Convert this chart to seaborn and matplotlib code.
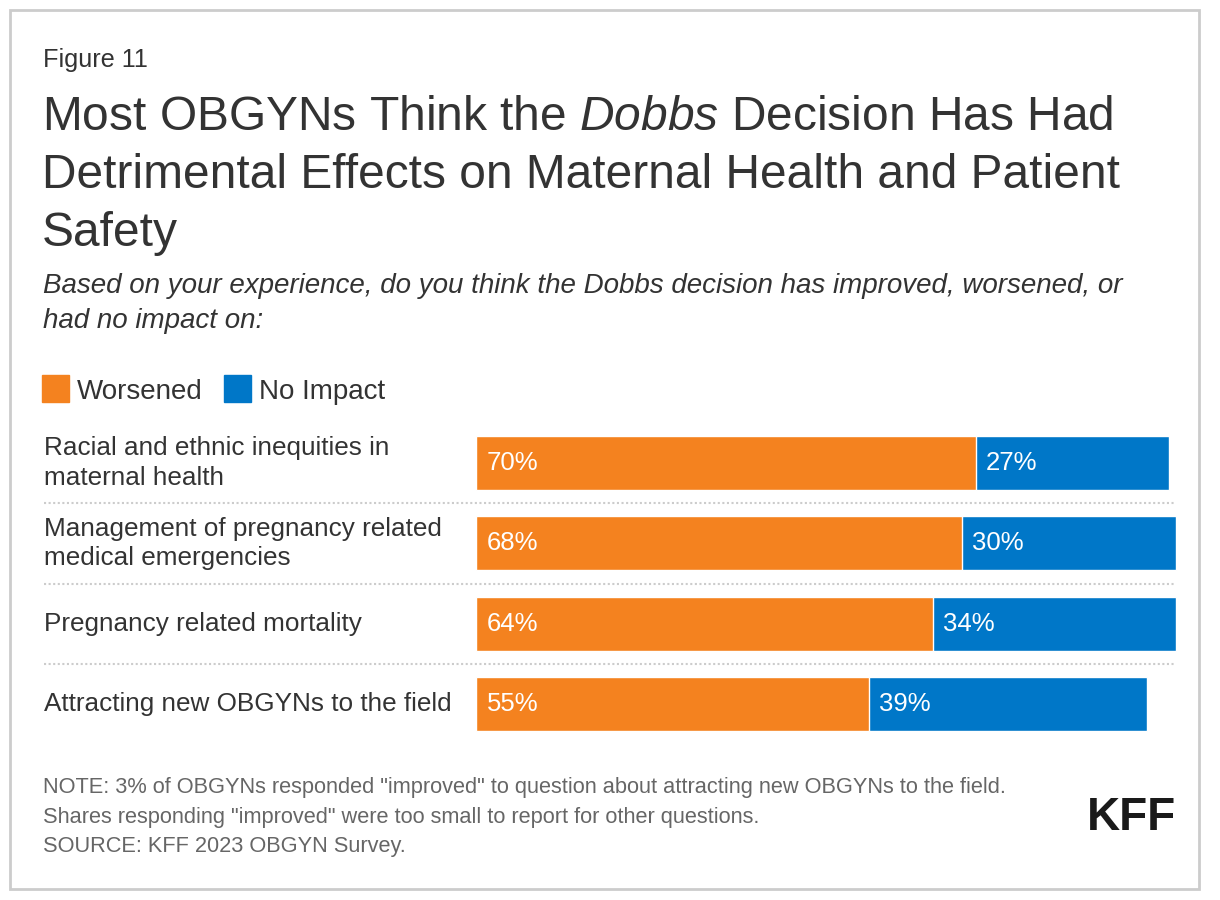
import matplotlib
matplotlib.use("Agg")
import matplotlib.pyplot as plt
import matplotlib.transforms as mtransforms
from matplotlib.patches import Rectangle
import seaborn as sns
import pandas as pd

categories = [
    "Racial and ethnic inequities in\nmaternal health",
    "Management of pregnancy related\nmedical emergencies",
    "Pregnancy related mortality",
    "Attracting new OBGYNs to the field",
]
worsened = [70, 68, 64, 55]
no_impact = [27, 30, 34, 39]
series_names = ["Worsened", "No Impact"]

ORANGE = "#F4821F"
BLUE = "#0077C8"
TEXT = "#333333"
GRAY = "#666666"

sns.set_theme(style="white")
plt.rcParams["font.family"] = ["Liberation Sans", "DejaVu Sans"]
plt.rcParams["mathtext.fontset"] = "custom"
plt.rcParams["mathtext.it"] = "Liberation Sans:italic"
plt.rcParams["mathtext.rm"] = "Liberation Sans"

W, H = 1220, 900
fig = plt.figure(figsize=(W / 100, H / 100), dpi=100)

def fx(px):
    return px / W

def fy(py):
    return 1 - py / H

# Border
fig.patches.append(Rectangle((fx(10), fy(889)), fx(1199) - fx(10), fy(10) - fy(889),
                             transform=fig.transFigure, fill=False,
                             edgecolor="#cccccc", linewidth=2))

# Titles
fig.text(fx(43), fy(67), "Figure 11", fontsize=18.2, color=TEXT, va="baseline")
title_lines = [
    r"Most OBGYNs Think the $\mathit{Dobbs}$ Decision Has Had",
    "Detrimental Effects on Maternal Health and Patient",
    "Safety",
]
for i, line in enumerate(title_lines):
    fig.text(fx(42), fy(130 + 58 * i), line, fontsize=34.5, color=TEXT, va="baseline")

sub_lines = [
    "Based on your experience, do you think the Dobbs decision has improved, worsened, or",
    "had no impact on:",
]
for i, line in enumerate(sub_lines):
    fig.text(fx(43), fy(293 + 35 * i), line, fontsize=20, color=TEXT,
             style="italic", va="baseline")

# Legend
leg_x = [42, 224]
for name, col, lx in zip(series_names, [ORANGE, BLUE], leg_x):
    fig.patches.append(Rectangle((fx(lx), fy(402)), fx(27), 27 / H,
                                 transform=fig.transFigure, color=col))
    fig.text(fx(lx + 35), fy(389), name, fontsize=20, color=TEXT, va="center_baseline")

# Axes for bars
row_top, row_step = 463, 80.4
ax_top = row_top - row_step / 2
ax_h = row_step * 4
ax = fig.add_axes([fx(476), fy(ax_top + ax_h), 714 / W, ax_h / H])

df = pd.DataFrame({"category": categories, "worsened": worsened, "no_impact": no_impact})
df["total"] = df["worsened"] + df["no_impact"]

bw = 54 / row_step
sns.barplot(data=df, x="total", y="category", color=BLUE, orient="h",
            width=bw, ax=ax, saturation=1)
sns.barplot(data=df, x="worsened", y="category", color=ORANGE, orient="h",
            width=bw, ax=ax, saturation=1)
ax.set_xlim(0, 100)
ax.set_ylim(3.5, -0.5)
ax.axis("off")

for i, (w, n) in enumerate(zip(worsened, no_impact)):
    ax.annotate(f"{w}%", (0, i), xytext=(8, 0), textcoords="offset points",
                color="white", fontsize=18.5, va="center", ha="left")
    ax.annotate(f"{n}%", (w, i), xytext=(7.5, 0), textcoords="offset points",
                color="white", fontsize=18.5, va="center", ha="left")

# Category labels and separators
blend = mtransforms.blended_transform_factory(fig.transFigure, ax.transData)
for i, cat in enumerate(categories):
    t = fig.text(fx(44), 0, cat, transform=blend, fontsize=18.8, color=TEXT,
                 va="center", ha="left", linespacing=1.28)
    t.set_position((fx(44), i))
for i in range(len(categories) - 1):
    line = plt.Line2D([fx(44), fx(1176)], [i + 0.5, i + 0.5], transform=blend,
                      color="#cccccc", linewidth=1.5, linestyle=(0, (1, 1.2)))
    fig.lines.append(line)

# Notes
notes = [
    'NOTE: 3% of OBGYNs responded "improved" to question about attracting new OBGYNs to the field.',
    'Shares responding "improved" were too small to report for other questions.',
    "SOURCE: KFF 2023 OBGYN Survey.",
]
for i, line in enumerate(notes):
    fig.text(fx(43), fy(793 + 29.5 * i), line, fontsize=15.7, color=GRAY, va="baseline")

fig.text(fx(1176), fy(830), "KFF", fontsize=33, fontweight="bold",
         family=["Liberation Sans Narrow", "Liberation Sans"], color="#1a1a1a",
         ha="right", va="baseline")

fig.savefig("out.png", dpi=100, facecolor="white")
